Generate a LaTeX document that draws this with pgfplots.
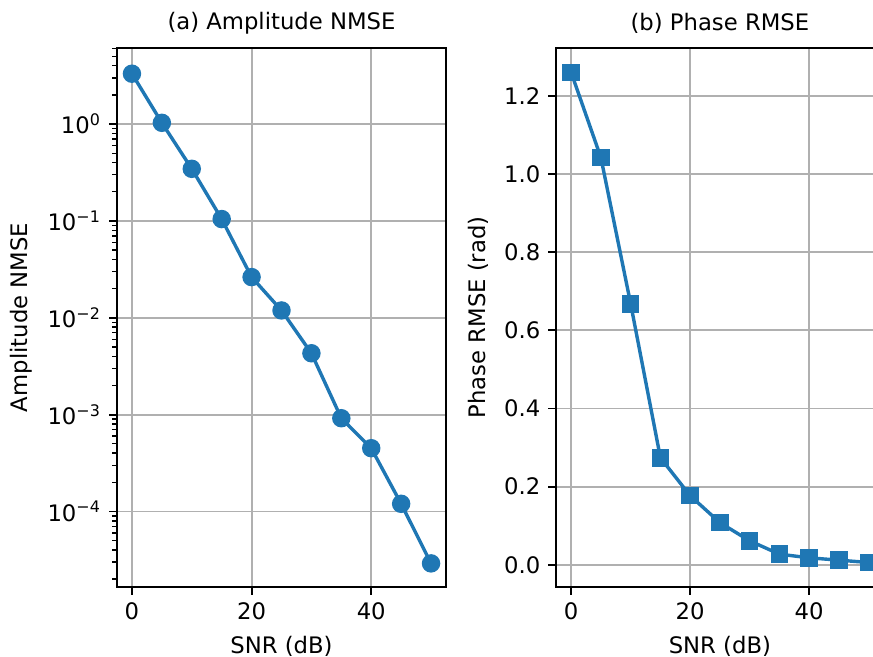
\documentclass[border=0pt]{standalone}
\usepackage{fontspec}
\setmainfont{DejaVu Sans}
\usepackage{pgfplots}
\pgfplotsset{compat=1.18}
\definecolor{mplblue}{HTML}{1F77B4}
\definecolor{gridgray}{HTML}{B0B0B0}
\pgfplotsset{
  mystyle/.style={
    scale only axis,
    height=237.16pt,
    xmin=-2.5, xmax=52.5,
    xtick={0,20,40},
    axis line style={line width=0.8pt, black},
    grid=major,
    grid style={line width=0.8pt, gridgray},
    major tick length=3.5pt,
    minor tick length=2pt,
    tick align=outside,
    tick pos=left,
    major tick style={line width=0.8pt, black},
    minor tick style={line width=0.6pt, black},
    tick label style={font=\fontsize{10}{12}\selectfont},
    label style={font=\fontsize{10}{12}\selectfont},
    every axis title shift=6pt,
    title style={font=\fontsize{10}{12}\selectfont, anchor=south, inner sep=0pt},
    /pgf/number format/assume math mode=true,
    xlabel={SNR (dB)},
  }
}
\begin{document}
\begin{tikzpicture}
\useasboundingbox (0,0) rectangle (384.12pt,288.64pt);
\clip (0,0) rectangle (384.12pt,288.64pt);
\begin{axis}[mystyle,
  at={(51.48pt,30.36pt)}, anchor=south west,
  width=144.76pt,
  ymode=log,
  ymin=1.66e-5, ymax=6.1,
  ytick={1e-4,1e-3,1e-2,1e-1,1},
  yticklabels={10\textsuperscript{−4},10\textsuperscript{−3},10\textsuperscript{−2},10\textsuperscript{−1},10\textsuperscript{0}},
  minor ytick={2e-5,3e-5,4e-5,5e-5,6e-5,7e-5,8e-5,9e-5,
               2e-4,3e-4,4e-4,5e-4,6e-4,7e-4,8e-4,9e-4,
               2e-3,3e-3,4e-3,5e-3,6e-3,7e-3,8e-3,9e-3,
               2e-2,3e-2,4e-2,5e-2,6e-2,7e-2,8e-2,9e-2,
               0.2,0.3,0.4,0.5,0.6,0.7,0.8,0.9,2,3,4,5,6},
  title={(a) Amplitude NMSE},
  ylabel={Amplitude NMSE},
]
\addplot[color=mplblue, line width=1.5pt, mark=*, mark size=3.3pt, mark options={solid, fill=mplblue}]
coordinates {(0,3.31) (5,1.03) (10,0.345) (15,0.1045) (20,0.0263) (25,0.0119) (30,0.0043) (35,0.000918) (40,0.00045) (45,0.00012) (50,0.0000291)};
\end{axis}
\begin{axis}[mystyle,
  at={(244.77pt,30.36pt)}, anchor=south west,
  width=143.97pt,
  ymin=-0.0567, ymax=1.3227,
  ytick={0,0.2,0.4,0.6,0.8,1.0,1.2},
  yticklabel style={/pgf/number format/fixed, /pgf/number format/fixed zerofill, /pgf/number format/precision=1},
  title={(b) Phase RMSE},
  ylabel={Phase RMSE (rad)},
]
\addplot[color=mplblue, line width=1.5pt, mark=square*, mark size=3.1pt, mark options={solid, fill=mplblue}]
coordinates {(0,1.26) (5,1.042) (10,0.668) (15,0.274) (20,0.177) (25,0.108) (30,0.0615) (35,0.0274) (40,0.018) (45,0.012) (50,0.006)};
\end{axis}
\end{tikzpicture}
\end{document}
